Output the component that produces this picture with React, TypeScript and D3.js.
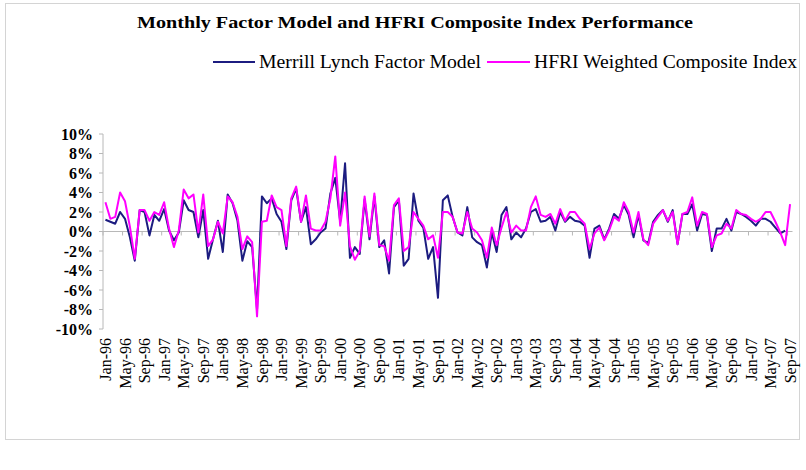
import React, { useEffect, useRef } from 'react';
import * as d3 from 'd3';

// monthly returns in %, Jan-96 .. Sep-07
const mlFactor: (number | null)[] = [
  1.2, 1.0, 0.8, 2.0, 1.3, -0.6, -3.0, 2.2, 2.0, -0.4, 1.7, 1.1,
  2.3, 0.1, -0.9, -0.1, 3.2, 2.2, 2.0, -0.6, 2.2, -2.8, -0.8, 1.1,
  -2.1, 3.8, 2.9, 1.1, -3.0, -1.0, -1.6, -8.0, 3.6, 2.9, 3.4, 1.8,
  1.0, -1.8, 3.2, 4.4, 1.0, 2.5, -1.3, -0.8, -0.1, 0.3, 3.9, 5.5,
  1.0, 7.0, -2.7, -1.6, -2.3, 3.3, -0.8, 3.6, -1.6, -0.9, -4.3, 2.5,
  3.2, -3.5, -2.8, 3.9, 1.1, 0.4, -2.8, -1.6, -6.8, 3.2, 3.7, 1.5,
  -0.1, -0.4, 2.5, -0.6, -1.1, -1.4, -3.7, -0.1, -2.1, 1.7, 2.5, -0.8,
  -0.1, -0.6, 0.3, 2.0, 2.3, 1.0, 1.1, 1.5, 0.1, 2.0, 1.0, 1.5,
  1.1, 1.0, 0.6, -2.7, 0.3, 0.6, -0.8, 0.3, 1.8, 1.3, 2.7, 1.7,
  -0.6, 1.7, -0.9, -1.2, 1.0, 1.7, 2.2, 1.0, 2.2, -1.3, 1.8, 1.8,
  2.8, 0.1, 1.8, 1.7, -2.0, 0.3, 0.3, 1.3, 0.1, 2.0, 1.8, 1.5,
  1.1, 0.6, 1.3, 1.3, 1.0, 0.4, -0.2, 0.1, null,
];

const hfri: number[] = [
  3.0, 1.3, 1.5, 4.0, 3.1, 0.5, -2.8, 2.2, 2.2, 1.1, 2.0, 1.7,
  3.0, 0.3, -1.6, 0.1, 4.3, 3.4, 3.8, -0.1, 3.8, -1.5, -0.8, 1.0,
  -0.2, 3.6, 3.0, 1.5, -1.8, -0.5, -1.1, -8.7, 1.0, 1.1, 3.7, 2.5,
  2.2, -1.5, 3.4, 4.6, 1.0, 3.7, 0.3, 0.1, 0.1, 1.0, 3.4, 7.7,
  0.6, 4.0, -1.5, -2.9, -2.0, 3.6, -0.5, 3.9, -1.4, -1.5, -3.0, 2.7,
  3.4, -2.0, -1.6, 2.0, 1.3, 0.6, -0.8, -0.4, -2.7, 2.0, 2.0, 1.5,
  -0.1, -0.2, 2.0, 0.3, -0.1, -0.9, -2.7, 0.4, -1.4, 0.4, 2.0, -0.1,
  0.6, 0.1, 0.1, 2.5, 3.6, 1.7, 1.5, 1.8, 0.8, 2.3, 1.1, 2.0,
  2.0, 1.3, 0.8, -1.8, -0.2, 0.4, -0.9, 0.1, 1.5, 1.1, 3.0, 2.0,
  -0.1, 2.0, -0.8, -1.4, 0.8, 1.5, 2.2, 1.1, 2.0, -1.3, 1.8, 2.0,
  3.5, 0.6, 2.0, 1.8, -1.6, -0.4, -0.2, 0.8, 0.3, 2.2, 1.8, 1.7,
  1.3, 1.0, 1.3, 2.0, 2.0, 1.0, -0.1, -1.4, 2.8,
];

const months: string[] = d3.timeMonth
  .range(new Date(1996, 0, 1), new Date(2007, 9, 1))
  .map(d3.timeFormat('%b-%y'));

const yTicks = [10, 8, 6, 4, 2, 0, -2, -4, -6, -8, -10];
const seriesNames = ['Merrill Lynch Factor Model', 'HFRI Weighted Composite Index'];
const seriesColors = ['#1c1c80', '#ff00ff'];

const FONT = '"Times New Roman", "Liberation Serif", serif';

const App = () => {
  const ref = useRef<SVGSVGElement>(null);

  useEffect(() => {
    const svg = d3.select(ref.current);
    svg.selectAll('*').remove();

    const left = 103;
    const right = 792.5;
    const top = 134;
    const bottom = 329;

    // categories sit between tick marks, like excel
    const x = d3.scaleBand<string>().domain(months).range([left, right]);
    const cx = (m: string) => (x(m) as number) + x.bandwidth() / 2;
    const y = d3.scaleLinear().domain([-10, 10]).range([bottom, top]);

    // outer frame
    svg.append('rect')
      .attr('x', 5.5).attr('y', 3.5)
      .attr('width', 794).attr('height', 436)
      .attr('fill', '#fff')
      .attr('stroke', '#d4d4d4');

    svg.append('text')
      .attr('x', 415).attr('y', 28)
      .attr('text-anchor', 'middle')
      .attr('font-family', FONT)
      .attr('font-weight', 'bold')
      .attr('font-size', 17)
      .attr('textLength', 556)
      .attr('lengthAdjust', 'spacingAndGlyphs')
      .text('Monthly Factor Model and HFRI Composite Index Performance');

    // legend
    const legendItems = [
      { x1: 213, x2: 255, tx: 259, tl: 222 },
      { x1: 487, x2: 530, tx: 534, tl: 263 },
    ];
    legendItems.forEach((it, k) => {
      svg.append('line')
        .attr('x1', it.x1).attr('x2', it.x2)
        .attr('y1', 62).attr('y2', 62)
        .attr('stroke', seriesColors[k])
        .attr('stroke-width', 2);
      svg.append('text')
        .attr('x', it.tx).attr('y', 68)
        .attr('font-family', FONT)
        .attr('font-size', 18)
        .attr('textLength', it.tl)
        .attr('lengthAdjust', 'spacingAndGlyphs')
        .attr('fill', '#000')
        .text(seriesNames[k]);
    });

    // y axis
    const axisColor = '#b8b8b8';
    svg.append('line')
      .attr('x1', left).attr('x2', left)
      .attr('y1', y(10)).attr('y2', y(-10))
      .attr('stroke', axisColor);
    yTicks.forEach(t => {
      svg.append('line')
        .attr('x1', left - 4).attr('x2', left)
        .attr('y1', y(t)).attr('y2', y(t))
        .attr('stroke', axisColor);
      svg.append('text')
        .attr('x', 93).attr('y', y(t))
        .attr('dy', '0.35em')
        .attr('text-anchor', 'end')
        .attr('font-family', FONT)
        .attr('font-weight', 'bold')
        .attr('font-size', 16)
        .text(`${t}%`);
    });

    // zero line with category ticks every 4 months
    svg.append('line')
      .attr('x1', left).attr('x2', right)
      .attr('y1', y(0)).attr('y2', y(0))
      .attr('stroke', axisColor);
    months.forEach((m, i) => {
      if (i % 4 !== 0) return;
      svg.append('line')
        .attr('x1', x(m) as number).attr('x2', x(m) as number)
        .attr('y1', y(0)).attr('y2', y(0) + 4)
        .attr('stroke', axisColor);
      svg.append('text')
        .attr('transform', `translate(${cx(m)},338) rotate(-90)`)
        .attr('dy', '0.35em')
        .attr('text-anchor', 'end')
        .attr('font-family', FONT)
        .attr('font-size', 16)
        .text(m);
    });

    const line = d3.line<number | null>()
      .defined(d => d !== null)
      .x((_, i) => cx(months[i]))
      .y(d => y(d as number));

    [mlFactor, hfri].forEach((s, k) => {
      svg.append('path')
        .datum(s)
        .attr('fill', 'none')
        .attr('stroke', seriesColors[k])
        .attr('stroke-width', 2)
        .attr('stroke-linejoin', 'round')
        .attr('d', line);
    });
  }, []);

  return (
    <svg
      ref={ref}
      width={806}
      height={470}
      style={{ position: 'absolute', left: 0, top: 0, background: '#fff' }}
    />
  );
};

export default App;
